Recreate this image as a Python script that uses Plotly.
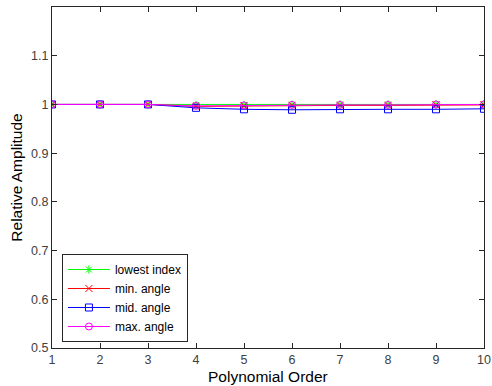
import plotly.graph_objects as go

orders = [1, 2, 3, 4, 5, 6, 7, 8, 9, 10]
lowest_index = [1.0, 1.0, 1.0, 0.999, 0.999, 0.9995, 1.0, 1.0, 1.0, 1.0]
min_angle = [1.0, 1.0, 1.0, 0.996, 0.997, 0.998, 0.998, 0.998, 0.999, 0.999]
mid_angle = [1.0, 1.0, 1.0, 0.993, 0.990, 0.989, 0.990, 0.990, 0.990, 0.991]
max_angle = [1.0, 1.0, 1.0, 0.997, 0.998, 0.999, 0.999, 0.999, 1.0, 1.0]

series = [
    ("lowest index", lowest_index, "#00ff00", "asterisk-open"),
    ("min. angle", min_angle, "#ff0000", "x-thin-open"),
    ("mid. angle", mid_angle, "#0000ff", "square-open"),
    ("max. angle", max_angle, "#ff00ff", "circle-open"),
]

fig = go.Figure()
for name, vals, col, sym in series:
    fig.add_trace(go.Scatter(
        x=orders, y=vals, name=name, mode="lines+markers",
        line=dict(color=col, width=1),
        marker=dict(symbol=sym, size=7, color=col, line=dict(color=col, width=1)),
    ))

axis_common = dict(
    showgrid=False, zeroline=False, showline=True, linecolor="#262626",
    linewidth=1, mirror="allticks", ticks="inside", ticklen=5,
    tickcolor="#262626", tickfont=dict(family="Arial", size=12.5, color="#404040"),
    automargin=False,
)
fig.update_xaxes(range=[1, 10], tickvals=orders, **axis_common)
fig.update_yaxes(range=[0.5, 1.2], tickvals=[0.5, 0.6, 0.7, 0.8, 0.9, 1.0, 1.1],
                 ticktext=["0.5", "0.6", "0.7", "0.8", "0.9", "1", "1.1"],
                 title=dict(text="Relative Amplitude", font=dict(family="Arial", size=15.5, color="black"), standoff=4),
                 **axis_common)

fig.add_annotation(text="Polynomial Order", xref="paper", yref="paper",
                   x=0.5, y=-0.085, xanchor="center", yanchor="middle", showarrow=False,
                   font=dict(family="Arial", size=15.5, color="black"))

fig.update_layout(
    width=492, height=386,
    margin=dict(l=52, r=8, t=7, b=38),
    plot_bgcolor="white", paper_bgcolor="white",
    legend=dict(x=0.023, y=0.0176, xanchor="left", yanchor="bottom",
                bordercolor="#262626", borderwidth=1, bgcolor="white",
                font=dict(family="Arial", size=12, color="black"),
                itemwidth=42, tracegroupgap=0),
)
fig.write_html("out.html")
